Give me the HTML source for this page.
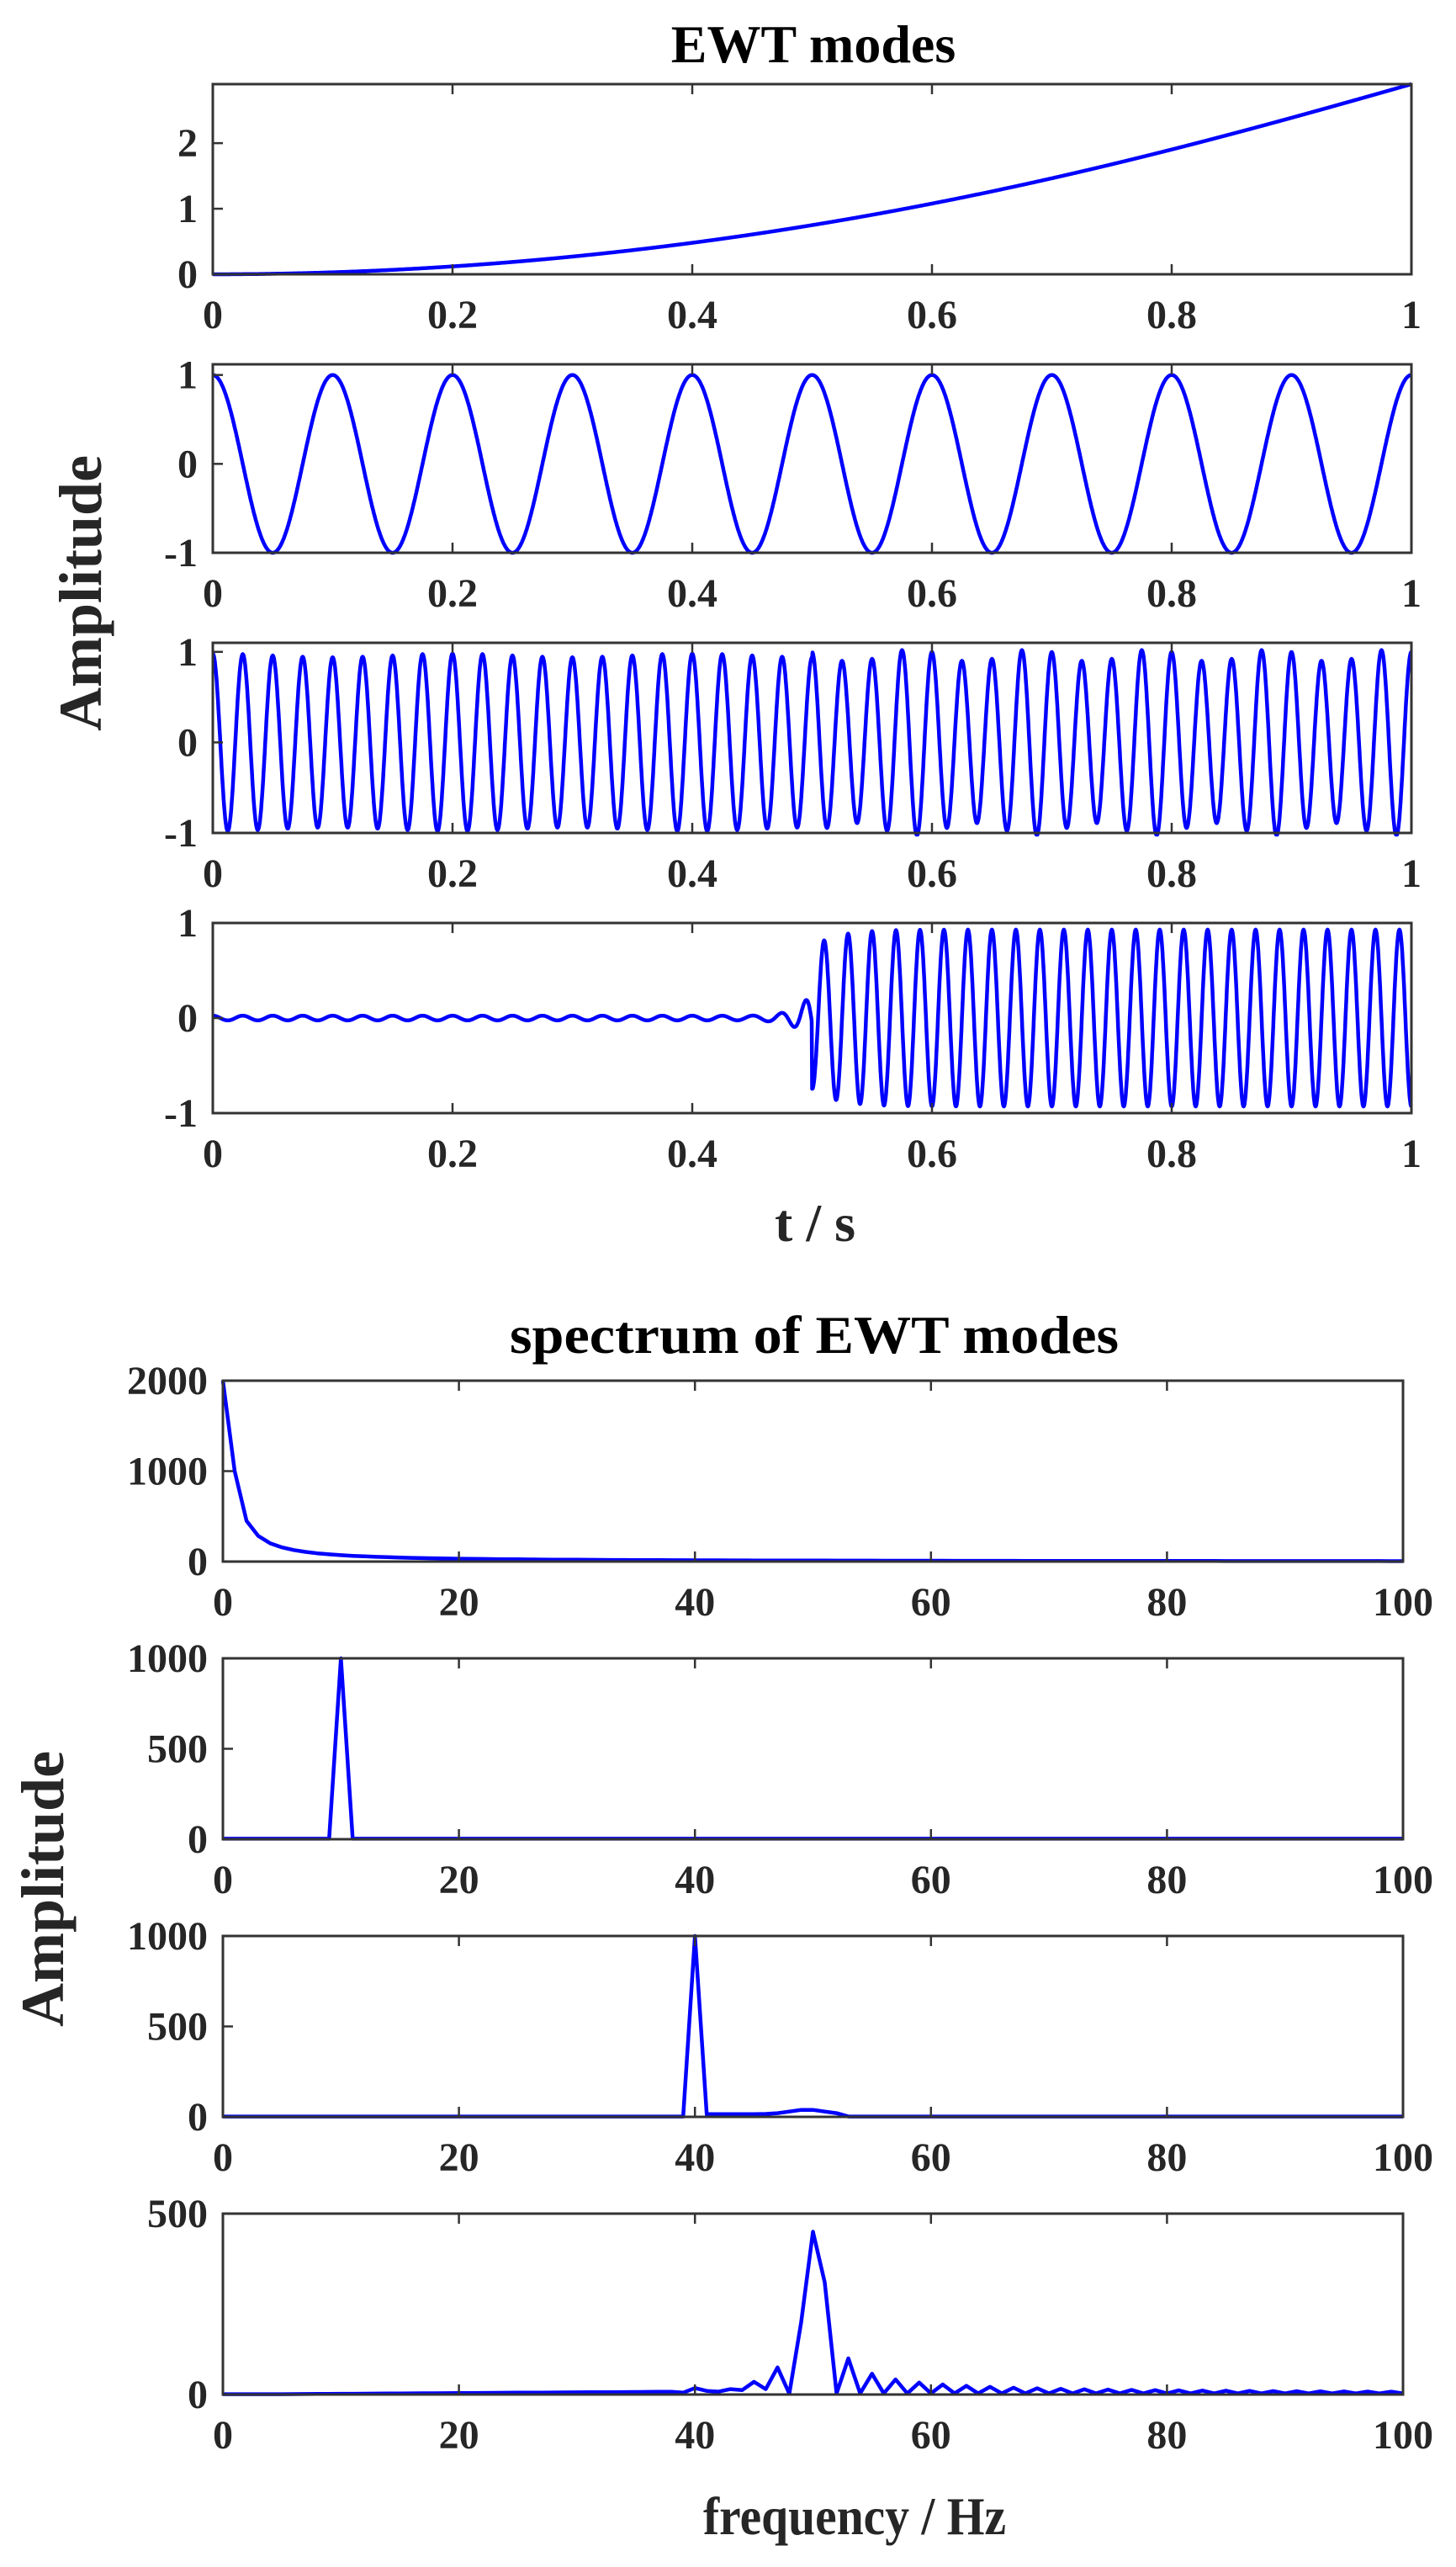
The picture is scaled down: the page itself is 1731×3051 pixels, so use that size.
<!DOCTYPE html>
<html><head><meta charset="utf-8">
<style>
html,body{margin:0;padding:0;background:#fff;}
svg{display:block;}
text{font-family:"Liberation Serif","Times New Roman",serif;font-weight:bold;fill:#262626;}
</style></head>
<body>
<svg id="s" width="1731" height="3051" viewBox="0 0 1731 3051" xmlns="http://www.w3.org/2000/svg">
<rect width="1731" height="3051" fill="#fff"/>
<text x="967" y="74" font-size="64" text-anchor="middle" fill="#000" style="fill:#000">EWT modes</text>
<text x="969" y="1475" font-size="64" text-anchor="middle">t / s</text>
<text x="968" y="1608" font-size="64" text-anchor="middle" textLength="724" lengthAdjust="spacingAndGlyphs" style="fill:#000">spectrum of EWT modes</text>
<text x="1016" y="3012" font-size="64" text-anchor="middle" textLength="360" lengthAdjust="spacingAndGlyphs">frequency / Hz</text>
<text transform="translate(120,705) rotate(-90)" font-size="72" text-anchor="middle">Amplitude</text>
<text transform="translate(75,2245) rotate(-90)" font-size="72" text-anchor="middle">Amplitude</text>
<g id="g"></g>
</svg>
<script>
var NS="http://www.w3.org/2000/svg",G=document.getElementById('g');
function el(n,a,t){var e=document.createElementNS(NS,n);for(var k in a)e.setAttribute(k,a[k]);if(t!==undefined)e.textContent=t;G.appendChild(e);return e;}
function panel(x0,x1,y0,y1,xmin,xmax,ymin,ymax,xt,xl,yt,yl,data){
  var sx=function(v){return x0+(v-xmin)/(xmax-xmin)*(x1-x0);};
  var sy=function(v){return y1-(v-ymin)/(ymax-ymin)*(y1-y0);};
  var d="";
  for(var i=0;i<data.length;i++){var px=sx(data[i][0]),py=sy(data[i][1]);py=Math.max(y0-2,Math.min(y1+2,py));d+=(i?"L":"M")+px.toFixed(1)+","+py.toFixed(1);}
  el('path',{d:d,fill:'none',stroke:'#0000ff','stroke-width':4.5,'stroke-linejoin':'round'});
  el('rect',{x:x0,y:y0,width:x1-x0,height:y1-y0,fill:'none',stroke:'#333','stroke-width':3});
  for(var i=0;i<xt.length;i++){var X=sx(xt[i]);
    el('line',{x1:X,x2:X,y1:y1,y2:y1-12,stroke:'#333','stroke-width':2.5});
    el('line',{x1:X,x2:X,y1:y0,y2:y0+12,stroke:'#333','stroke-width':2.5});
    el('text',{x:X,y:y1+64,'font-size':48,'text-anchor':'middle'},xl[i]);}
  for(var i=0;i<yt.length;i++){var Y=sy(yt[i]);
    el('line',{x1:x0,x2:x0+12,y1:Y,y2:Y,stroke:'#333','stroke-width':2.5});
    el('text',{x:x0-18,y:Y+16,'font-size':48,'text-anchor':'end'},yl[i]);}
}
var TX=[0,.2,.4,.6,.8,1],TL=['0','0.2','0.4','0.6','0.8','1'];
var N=3000,d1=[],d2=[],d3=[],d4=[];
for(var i=0;i<=N;i++){var t=i/N;
  d1.push([t,3*t*t-0.1*Math.pow(t,8)]);
  d2.push([t,Math.cos(2*Math.PI*10*t)]);
  var a=0.96+(t>0.5?0.07*Math.cos(2*Math.PI*10*t+1):0.02*Math.cos(2*Math.PI*5*t));
  d3.push([t,a*Math.cos(2*Math.PI*40*t)]);
  var y;
  if(t<0.5){y=0.025*Math.cos(2*Math.PI*40*t)+0.3*Math.exp(-(0.5-t)/0.011)*Math.cos(2*Math.PI*50*(t-0.494));}
  else{y=-0.93*Math.cos(2*Math.PI*50*(t-0.5))*(1-0.2*Math.exp(-(t-0.5)/0.02));}
  d4.push([t,y]);}
var L=253,R=1678;
panel(L,R,100,326,0,1,0,2.9,TX,TL,[0,1,2],['0','1','2'],d1);
panel(L,R,433,657,0,1,-1,1.12,TX,TL,[-1,0,1],['-1','0','1'],d2);
panel(L,R,764,990,0,1,-1,1.1,TX,TL,[-1,0,1],['-1','0','1'],d3);
panel(L,R,1097,1323,0,1,-1,1,TX,TL,[-1,0,1],['-1','0','1'],d4);
var FX=[0,20,40,60,80,100],FL=['0','20','40','60','80','100'];
var s1=[],s2=[],s3=[],s4=[];
for(var f=0;f<=100;f++){
  s1.push([f,f==0?2000:1000/Math.pow(f,1.15)]);
  s2.push([f,f==10?1000:3]);
  var v3=f==40?1000:(f>40&&f<53?15+25*Math.exp(-Math.pow((f-49.5)/2,2)):2);
  s3.push([f,v3]);
  var v4;
  if(f==50)v4=450;else if(f==51)v4=310;else if(f==49)v4=200;
  else if(f>51){v4=(f%2==1)?Math.max(8,100*Math.pow(2/(f-51),0.8)):3;}
  else {var tb={48:2,47:75,46:15,45:35,44:12,43:15,42:8,41:10,40:18,39:5};v4=tb[f]!==undefined?tb[f]:Math.max(1,8*(f/40));}
  s4.push([f,v4]);}
var l2=265,r2=1668;
panel(l2,r2,1641,1856,0,100,0,2000,FX,FL,[0,1000,2000],['0','1000','2000'],s1);
panel(l2,r2,1971,2186,0,100,0,1000,FX,FL,[0,500,1000],['0','500','1000'],s2);
panel(l2,r2,2301,2516,0,100,0,1000,FX,FL,[0,500,1000],['0','500','1000'],s3);
panel(l2,r2,2631,2846,0,100,0,500,FX,FL,[0,500],['0','500'],s4);
</script>
</body></html>
